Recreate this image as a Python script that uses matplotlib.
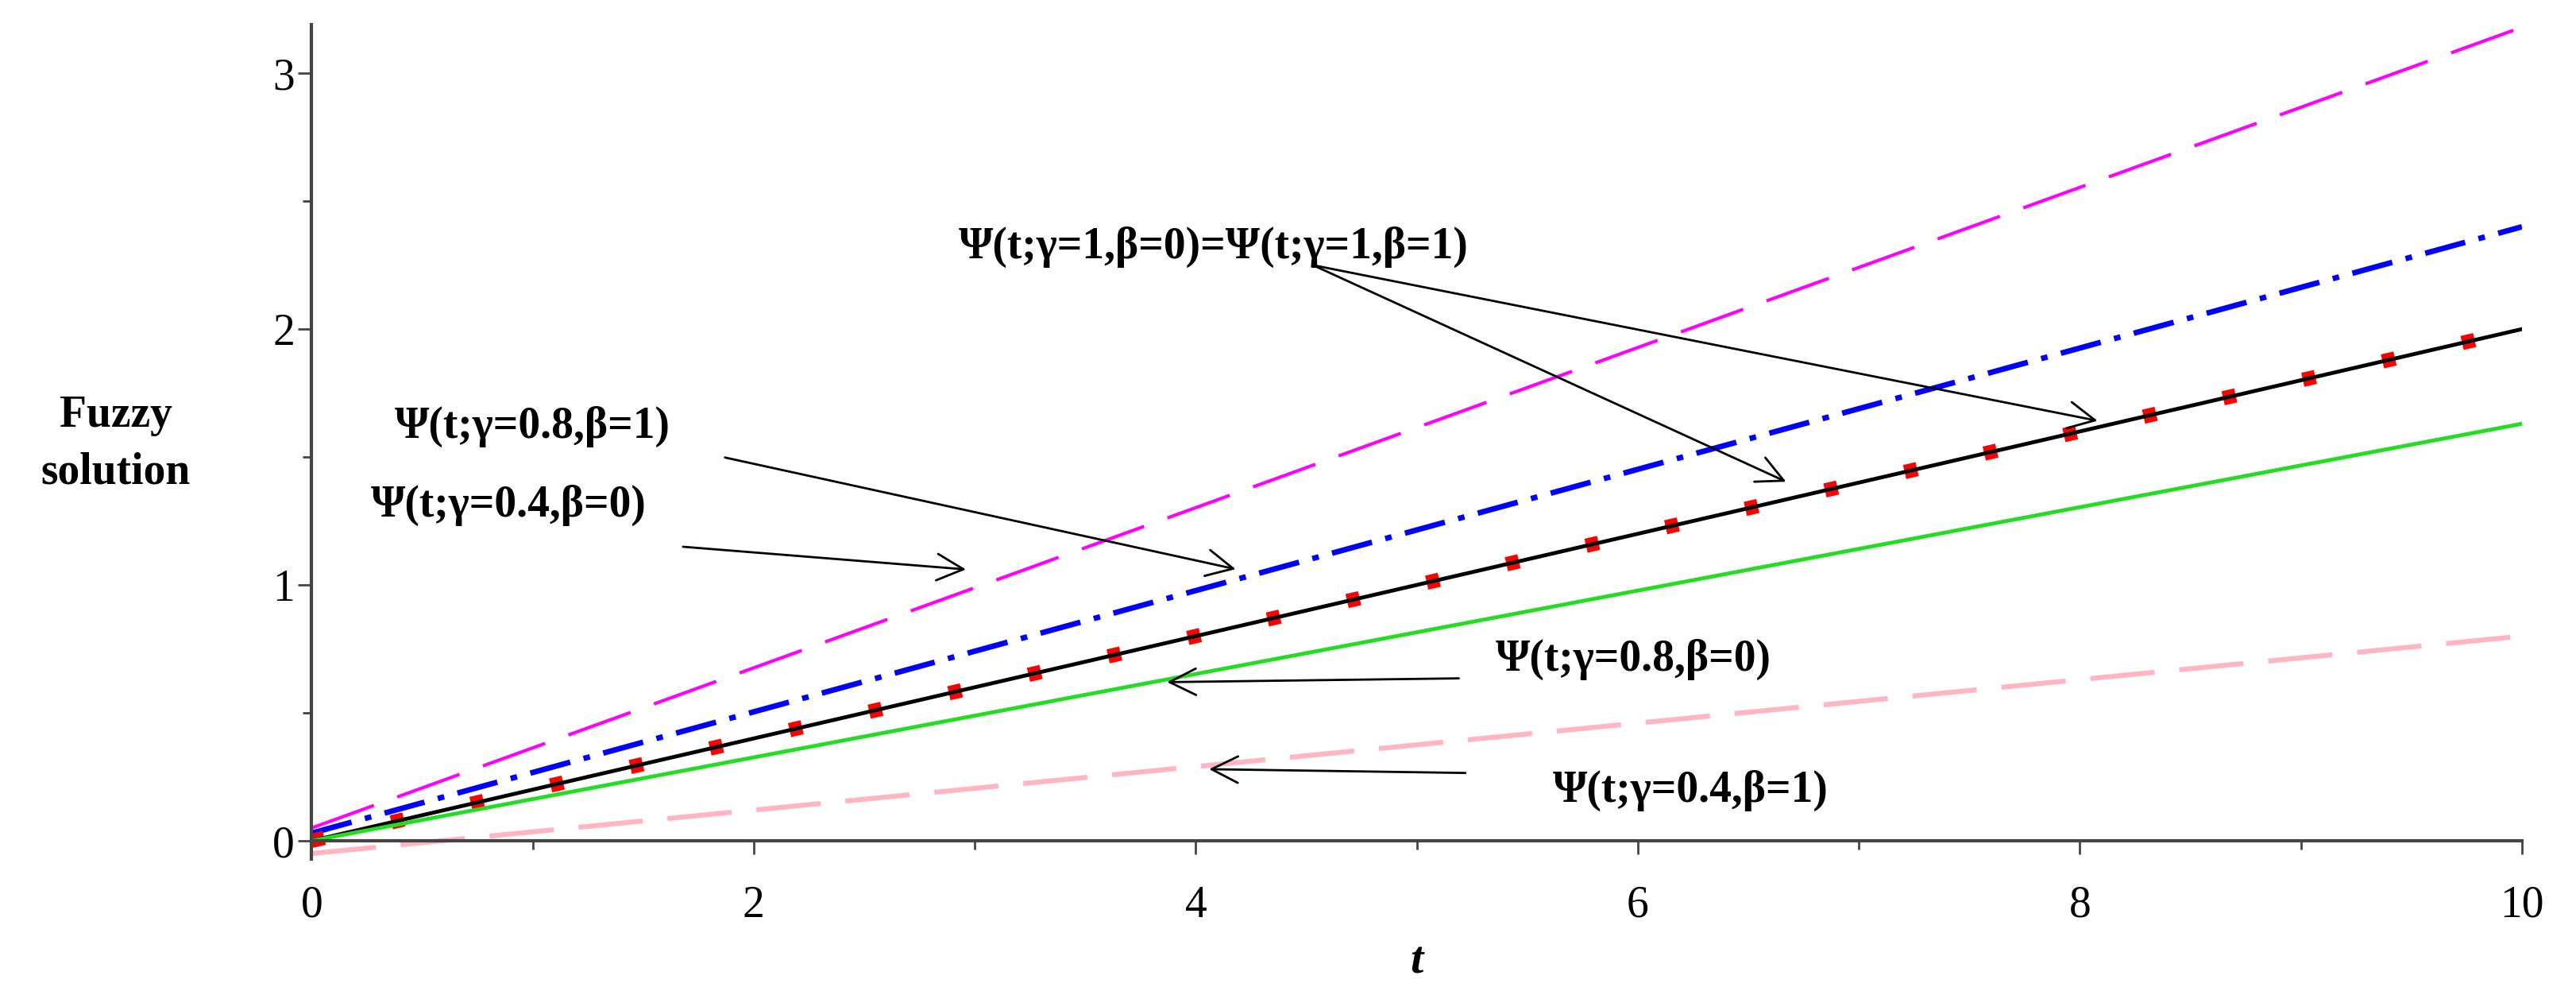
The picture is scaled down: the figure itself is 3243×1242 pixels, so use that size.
import matplotlib
matplotlib.use("Agg")
import matplotlib.pyplot as plt

t = [0, 10]
magenta = [0.05, 3.18]
blue = [0.03, 2.40]
black = [0.0, 2.0]
red = [0.0, 2.0]
green = [0.0, 1.63]
pink = [-0.05, 0.80]
xticks = [0, 2, 4, 6, 8, 10]
yticks = [0, 1, 2, 3]

plt.rcParams['font.family'] = ['Liberation Serif', 'DejaVu Serif']
fig = plt.figure(figsize=(32.43, 12.42), dpi=100)
ax = fig.add_axes([0.121, 0.13, 0.858, 0.845])
ax.plot(t, magenta, color='#ff00ff', lw=3, dashes=(20, 7.5))
ax.plot(t, blue, color='#0000ff', lw=5, dashes=(7.5, 2.5, 1.2, 2.5))
ax.plot(t, red, color='red', lw=13, dashes=(0.9, 4.8))
ax.plot(t, black, color='black', lw=3.5)
ax.plot(t, green, color='#22dd22', lw=3.5)
ax.plot(t, pink, color='#ffb6c1', lw=4.5, dashes=(13, 5))

ax.set_xlim(0, 10)
ax.set_ylim(-0.07, 3.19)
ax.spines['top'].set_visible(False)
ax.spines['right'].set_visible(False)
ax.spines['bottom'].set_position(('data', 0))
for s in ['left', 'bottom']:
    ax.spines[s].set_linewidth(3)
    ax.spines[s].set_color('#444444')
ax.set_xticks(xticks)
ax.set_yticks(yticks)
ax.set_xticks([1, 3, 5, 7, 9], minor=True)
ax.set_yticks([0.5, 1.5, 2.5], minor=True)
ax.tick_params(labelsize=40, length=12, width=2, color='#444444')
ax.tick_params(which='minor', length=8, width=2, color='#444444')
ax.tick_params(axis='x', pad=28)

ap = dict(arrowstyle='->', color='black', lw=2, mutation_scale=60)
fs = 40
ax.text(4.08, 2.32, 'Ψ(t;γ=1,β=0)=Ψ(t;γ=1,β=1)', fontsize=fs, fontweight='bold', ha='center', va='center')
ax.annotate('', xy=(6.68, 1.40), xytext=(4.53, 2.25), arrowprops=ap)
ax.annotate('', xy=(8.09, 1.64), xytext=(4.53, 2.25), arrowprops=ap)
ax.text(1.0, 1.62, 'Ψ(t;γ=0.8,β=1)', fontsize=fs, fontweight='bold', ha='center', va='center')
ax.annotate('', xy=(4.19, 1.06), xytext=(1.86, 1.50), arrowprops=ap)
ax.text(0.89, 1.31, 'Ψ(t;γ=0.4,β=0)', fontsize=fs, fontweight='bold', ha='center', va='center')
ax.annotate('', xy=(2.97, 1.06), xytext=(1.67, 1.15), arrowprops=ap)
ax.text(5.98, 0.71, 'Ψ(t;γ=0.8,β=0)', fontsize=fs, fontweight='bold', ha='center', va='center')
ax.annotate('', xy=(3.86, 0.62), xytext=(5.2, 0.635), arrowprops=ap)
ax.text(6.24, 0.195, 'Ψ(t;γ=0.4,β=1)', fontsize=fs, fontweight='bold', ha='center', va='center')
ax.annotate('', xy=(4.05, 0.28), xytext=(5.23, 0.265), arrowprops=ap)

fig.text(0.045, 0.55, 'Fuzzy\nsolution', fontsize=40, fontweight='bold', ha='center', va='center', linespacing=1.5)
fig.text(0.55, 0.025, 't', fontsize=42, fontweight='bold', style='italic', ha='center', va='center')
fig.savefig('out.png', dpi=100)
